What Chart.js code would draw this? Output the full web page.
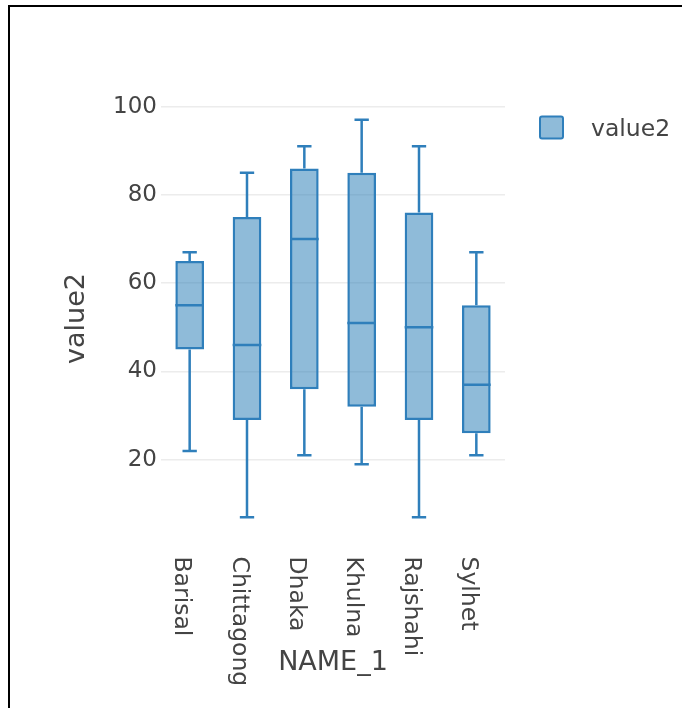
<!DOCTYPE html>
<html>
<head>
<meta charset="utf-8">
<title>value2 by NAME_1</title>
<script src="https://cdn.jsdelivr.net/npm/chart.js@4.4.1/dist/chart.umd.min.js"></script>
<style>
  html, body { margin: 0; padding: 0; background: #ffffff; }
  #frame {
    position: absolute; left: 8px; top: 5px; right: -10px; bottom: -10px;
    border-top: 2.5px solid #000; border-left: 2.5px solid #000;
  }
  #chart { position: absolute; left: 0; top: 0; }
</style>
</head>
<body>
<div id="frame"></div>
<canvas id="chart" width="682" height="708"></canvas>
<script>
// Five-number summaries of value2 for each division
const categories = ['Barisal', 'Chittagong', 'Dhaka', 'Khulna', 'Rajshahi', 'Sylhet'];
const lowerWhisker = [22, 7, 21, 19, 7, 21];
const q1 = [45, 29, 36, 32, 29, 26];
const median = [55, 46, 70, 51, 50, 37];
const q3 = [65, 75, 86, 85, 76, 55];
const upperWhisker = [67, 85, 91, 97, 91, 67];
const yTicks = [20, 40, 60, 80, 100];

const FONT = 'DejaVu Sans';
const TEXT = '#444444';
const LINE = '#2f7fbb';
const FILL = 'rgba(31,119,180,0.5)';

// Whiskers, caps and median lines on top of the floating IQR bars
const boxParts = {
  id: 'boxParts',
  afterDatasetsDraw(chart) {
    const y = chart.scales.y;
    const meta = chart.getDatasetMeta(0);
    const ctx = chart.ctx;
    ctx.save();
    ctx.strokeStyle = LINE;
    ctx.lineWidth = 2.5;
    meta.data.forEach((bar, i) => {
      const x = bar.x;
      const half = bar.width / 2;
      const cap = bar.width / 4;
      const yMin = y.getPixelForValue(lowerWhisker[i]);
      const yQ1 = y.getPixelForValue(q1[i]);
      const yMed = y.getPixelForValue(median[i]);
      const yQ3 = y.getPixelForValue(q3[i]);
      const yMax = y.getPixelForValue(upperWhisker[i]);
      ctx.beginPath();
      ctx.moveTo(x, yQ3); ctx.lineTo(x, yMax);
      ctx.moveTo(x - cap, yMax); ctx.lineTo(x + cap, yMax);
      ctx.moveTo(x, yQ1); ctx.lineTo(x, yMin);
      ctx.moveTo(x - cap, yMin); ctx.lineTo(x + cap, yMin);
      ctx.moveTo(x - half, yMed); ctx.lineTo(x + half, yMed);
      ctx.stroke();
    });
    ctx.restore();
  }
};

// Category labels turned a quarter clockwise, reading downward
const downLabels = {
  id: 'downLabels',
  afterDraw(chart) {
    const xs = chart.scales.x;
    const ctx = chart.ctx;
    ctx.save();
    ctx.fillStyle = TEXT;
    ctx.font = '23.5px "' + FONT + '"';
    ctx.textAlign = 'left';
    ctx.textBaseline = 'alphabetic';
    categories.forEach((name, i) => {
      const x = xs.getPixelForTick(i);
      ctx.save();
      ctx.translate(x - 14.5, chart.chartArea.bottom + 19.5);
      ctx.rotate(Math.PI / 2);
      ctx.fillText(name, 0, 0);
      ctx.restore();
    });
    ctx.restore();
  }
};

// Legend entry to the right of the plot
const sideLegend = {
  id: 'sideLegend',
  afterDraw(chart) {
    const ds = chart.data.datasets[0];
    const ctx = chart.ctx;
    ctx.save();
    ctx.fillStyle = ds.backgroundColor;
    ctx.strokeStyle = ds.borderColor;
    ctx.lineWidth = 2;
    ctx.beginPath();
    ctx.roundRect(540, 116.5, 23, 22, 2);
    ctx.fill();
    ctx.stroke();
    ctx.fillStyle = TEXT;
    ctx.font = '23.5px "' + FONT + '"';
    ctx.textAlign = 'left';
    ctx.textBaseline = 'alphabetic';
    ctx.fillText(ds.label, 591, 136);
    ctx.restore();
  }
};

new Chart(document.getElementById('chart'), {
  type: 'bar',
  data: {
    labels: categories,
    datasets: [{
      label: 'value2',
      data: q1.map((v, i) => [v, q3[i]]),
      backgroundColor: FILL,
      borderColor: LINE,
      borderWidth: 2.5,
      borderSkipped: false,
      categoryPercentage: 1,
      barPercentage: 0.5
    }]
  },
  options: {
    responsive: false,
    animation: false,
    devicePixelRatio: 1,
    layout: { padding: { top: 100, right: 177, left: 0, bottom: 0 } },
    plugins: { legend: { display: false }, tooltip: { enabled: false } },
    scales: {
      x: {
        grid: { display: false },
        border: { display: false },
        ticks: { display: false },
        title: {
          display: true, text: 'NAME_1', color: TEXT,
          font: { family: FONT, size: 27 },
          padding: { top: 0, bottom: 29 }
        },
        afterFit(scale) { scale.height = 171; }
      },
      y: {
        min: 2.5,
        max: 101.5,
        afterBuildTicks(scale) { scale.ticks = yTicks.map(v => ({ value: v })); },
        grid: { color: '#ececec', lineWidth: 1.5, drawTicks: false },
        border: { display: false },
        ticks: { color: TEXT, font: { family: FONT, size: 23 }, padding: 4 },
        title: {
          display: true, text: 'value2', color: TEXT,
          font: { family: FONT, size: 27 },
          padding: { top: 61, bottom: 0 }
        },
        afterFit(scale) { scale.width = 161; }
      }
    }
  },
  plugins: [boxParts, downLabels, sideLegend]
});
</script>
</body>
</html>
